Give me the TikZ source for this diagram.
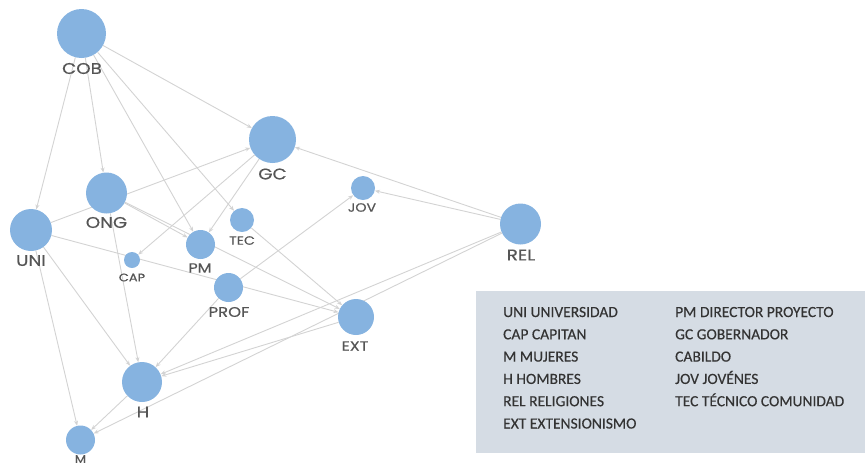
\documentclass[tikz,border=0pt]{standalone}
\usepackage{fontspec}
\setmainfont{Poppins}
\newfontfamily\labfont{Poppins}[FakeStretch=1.18,FakeBold=0.5]
\newfontfamily\legendfont{Carlito}[FakeBold=0.3]
\usetikzlibrary{arrows.meta}
\definecolor{nodeblue}{HTML}{86B3E0}
\definecolor{edgegray}{HTML}{D3D3D3}
\definecolor{labelgray}{HTML}{555555}
\definecolor{legendbg}{HTML}{D5DCE4}
\definecolor{legendtext}{HTML}{333333}
\pgfdeclarelayer{bg}
\pgfsetlayers{bg,main}
\begin{document}
\begin{tikzpicture}[x=1pt,y=-1pt,
  actor/.style={circle,fill=nodeblue,inner sep=0pt,minimum size=#1},
  lab/.style={text=labelgray,inner sep=0pt,font=\labfont\fontsize{#1}{#1}\selectfont},
  rel/.style={draw=edgegray,line width=0.9pt,-{Stealth[length=5pt,width=4pt]}},
  legtxt/.style={anchor=base west,inner sep=0pt,text=legendtext,font=\legendfont\fontsize{15.5}{16}\selectfont},
  ]
\useasboundingbox (0,0) rectangle (865,467);
% actors
\node[actor=49] (COB) at (81.5,33.5) {};
\node[actor=47] (GC) at (272.5,139.5) {};
\node[actor=41] (ONG) at (106.5,193) {};
\node[actor=42] (UNI) at (31,230) {};
\node[actor=24] (TEC) at (242,220) {};
\node[actor=29] (PM) at (200.5,244.5) {};
\node[actor=16] (CAP) at (132,260) {};
\node[actor=29] (PROF) at (228.5,287.5) {};
\node[actor=40] (H) at (142,382) {};
\node[actor=29] (M) at (80.5,440) {};
\node[actor=24] (JOV) at (363,188) {};
\node[actor=41] (REL) at (520.5,224) {};
\node[actor=36] (EXT) at (356,317) {};
% labels
\node[lab=15.5] (COBl) at (82,68.5) {COB};
\node[lab=15.5] (GCl) at (272.5,174) {GC};
\node[lab=15.5] (ONGl) at (106.5,222.5) {ONG};
\node[lab=15.5] (UNIl) at (31,260.5) {UNI};
\node[lab=15.5] (RELl) at (521,255) {REL};
\node[lab=15.5] (Hl) at (143,412) {H};
\node[lab=13.5] (PMl) at (200,268) {PM};
\node[lab=14] (PROFl) at (229,312) {PROF};
\node[lab=12] (TECl) at (242,240.5) {TEC};
\node[lab=12] (JOVl) at (362,207.5) {JOV};
\node[lab=11] (CAPl) at (132,277.5) {CAP};
\node[lab=13.5] (EXTl) at (355,346) {EXT};
\node[lab=11] (Ml) at (80.5,459) {M};
% connectors
\begin{pgfonlayer}{bg}
\draw[rel] (COB) -- (GC);
\draw[rel] (COB) -- (ONG);
\draw[rel] (COB) -- (UNI);
\draw[rel] (COB) -- (PM);
\draw[rel] (COB) -- (TEC);
\draw[rel] (UNI) -- (GC);
\draw[rel] (GC) -- (CAP);
\draw[rel] (GC) -- (PM);
\draw[rel] (REL) -- (GC);
\draw[rel] (REL) -- (JOV);
\draw[rel] (REL) -- (H);
\draw[rel] (REL) -- (M);
\draw[rel] (ONG) -- (PM);
\draw[rel] (ONG) -- (EXT);
\draw[rel] (ONG) -- (H);
\draw[rel] (UNI) -- (EXT);
\draw[rel] (UNI) -- (H);
\draw[rel] (UNI) -- (M);
\draw[rel] (TEC) -- (EXT);
\draw[rel] (PROF) -- (JOV);
\draw[rel] (PROF) -- (H);
\draw[rel] (EXT) -- (H);
\draw[rel] (H) -- (M);
\end{pgfonlayer}
% legend
\node[fill=legendbg,inner sep=0pt,minimum width=389pt,minimum height=162pt,anchor=north west] (legend) at (476,291) {};
\node[legtxt] (l1) at (503,317) {UNI UNIVERSIDAD};
\node[legtxt] (l2) at (503,339.3) {CAP CAPITAN};
\node[legtxt] (l3) at (503,361.6) {M MUJERES};
\node[legtxt] (l4) at (503,383.9) {H HOMBRES};
\node[legtxt] (l5) at (503,406.2) {REL RELIGIONES};
\node[legtxt] (l6) at (503,428.5) {EXT EXTENSIONISMO};
\node[legtxt] (r1) at (675,317) {PM DIRECTOR PROYECTO};
\node[legtxt] (r2) at (675,339.3) {GC GOBERNADOR};
\node[legtxt] (r3) at (675,361.6) {CABILDO};
\node[legtxt] (r4) at (675,383.9) {JOV JOVÉNES};
\node[legtxt] (r5) at (675,406.2) {TEC TÉCNICO COMUNIDAD};
\end{tikzpicture}
\end{document}
